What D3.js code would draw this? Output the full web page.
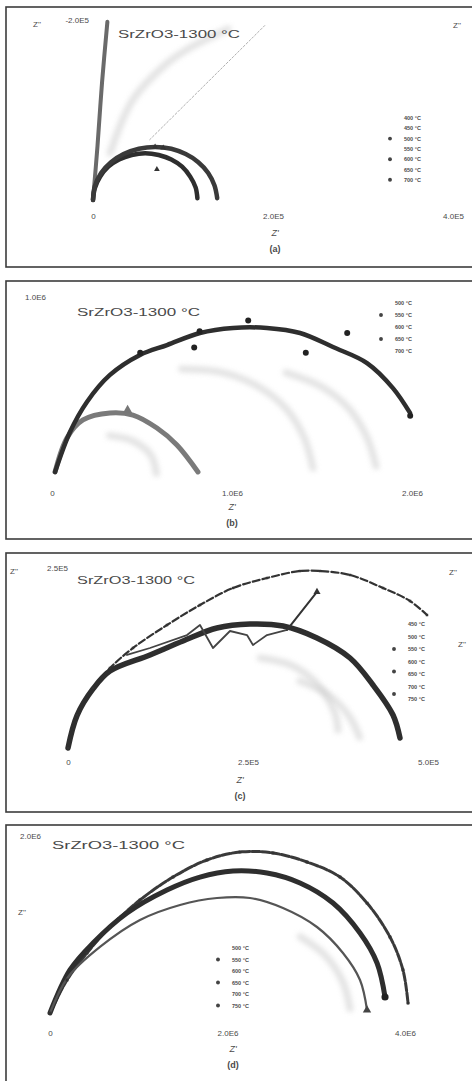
<!DOCTYPE html>
<html>
<head>
<meta charset="utf-8">
<script src="https://cdn.jsdelivr.net/npm/d3@7"></script>
<style>
  body { margin: 0; background: #fff; }
  svg { display: block; }
  text { font-family: "Liberation Sans", Arial, sans-serif; fill: #4a4a4a; }
</style>
</head>
<body>
<svg id="chart" width="472" height="1081"></svg>
<script>
// ---------- (a) Z' and -Z'' in units of 1e5 ohm ----------
const aOuter = [[0,0],[0.02,0.15],[0.09,0.30],[0.20,0.42],[0.34,0.51],[0.51,0.57],[0.69,0.59],[0.87,0.57],[1.03,0.51],[1.17,0.42],[1.28,0.30],[1.35,0.16],[1.38,0.02]];
const aInner = [[0,0],[0.02,0.13],[0.08,0.26],[0.17,0.37],[0.29,0.45],[0.43,0.50],[0.58,0.52],[0.73,0.50],[0.87,0.45],[0.99,0.37],[1.08,0.26],[1.14,0.14],[1.16,0.02]];
const aSpike = [[0,0],[0.05,0.60],[0.10,1.30],[0.16,1.98]];
const aHaze  = [[0.19,0.52],[0.44,1.11],[0.80,1.50],[1.04,1.67],[1.50,1.90]];
const aGuide = [[0.63,0.67],[1.91,1.94]];
const aMarks = [[0.69,0.59],[0.71,0.34],[0.78,0.58]];
const aXTicks = [0, 2, 4];
const aXLabels = ["0", "2.0E5", "4.0E5"];
const aYTicks = [2];
const aYLabels = ["-2.0E5"];
const aLegend = ["400 °C", "450 °C", "500 °C", "550 °C", "600 °C", "650 °C", "700 °C"];

// ---------- (b) units of 1e6 ohm ----------
const bOuter = [[0.017,0.028],[0.10,0.25],[0.194,0.417],[0.322,0.567],[0.489,0.678],[0.639,0.733],[0.822,0.80],[1.006,0.828],[1.194,0.828],[1.378,0.80],[1.561,0.722],[1.75,0.633],[1.894,0.494],[1.989,0.356]];
const bInner = [[0.017,0.028],[0.083,0.217],[0.172,0.317],[0.322,0.356],[0.45,0.344],[0.583,0.272],[0.694,0.178],[0.811,0.028]];
const bDots  = [[1.09,0.87],[0.79,0.72],[1.41,0.69],[1.64,0.80],[0.82,0.81],[0.49,0.69],[1.99,0.34]];
const bTri   = [[0.42,0.37]];
const bGhost1 = [[0.72,0.60],[0.95,0.58],[1.15,0.50],[1.30,0.38],[1.40,0.22],[1.45,0.05]];
const bGhost2 = [[1.30,0.58],[1.50,0.50],[1.65,0.38],[1.75,0.22],[1.80,0.06]];
const bGhost3 = [[0.32,0.23],[0.45,0.20],[0.55,0.12],[0.58,0.02]];
const bXTicks = [0, 1, 2];
const bXLabels = ["0", "1.0E6", "2.0E6"];
const bYTicks = [1];
const bYLabels = ["1.0E6"];
const bLegend = ["500 °C", "550 °C", "600 °C", "650 °C", "700 °C"];

// ---------- (c) units of 1e5 ohm ----------
const cOuter = [[0,0],[0.125,0.458],[0.347,0.833],[0.583,1.111],[0.903,1.389],[1.375,1.708],[1.833,1.986],[2.292,2.222],[2.764,2.361],[3.222,2.458],[3.5,2.458],[3.917,2.403],[4.375,2.222],[4.75,2.042],[4.986,1.847]];
const cInner = [[0,0],[0.125,0.45],[0.347,0.82],[0.583,1.069],[1.139,1.292],[1.597,1.486],[2.069,1.667],[2.528,1.722],[2.986,1.694],[3.458,1.528],[3.917,1.25],[4.236,0.875],[4.514,0.458],[4.611,0.139]];
const cZigzag = [[0.819,1.292],[1.139,1.389],[1.653,1.569],[1.833,1.708],[2.014,1.389],[2.25,1.625],[2.486,1.569],[2.569,1.431],[2.764,1.569],[3.042,1.639]];
const cArrow = [[3.042,1.639],[3.458,2.167]];
const cGhost1 = [[2.67,1.25],[3.10,1.15],[3.45,0.90],[3.70,0.50],[3.75,0.25]];
const cGhost2 = [[3.22,0.93],[3.60,0.75],[3.90,0.45],[4.05,0.15]];
const cXTicks = [0, 2.5, 5];
const cXLabels = ["0", "2.5E5", "5.0E5"];
const cYTicks = [2.5];
const cYLabels = ["2.5E5"];
const cLegend = ["450 °C", "500 °C", "550 °C", "600 °C", "650 °C", "700 °C", "750 °C"];

// ---------- (d) units of 1e6 ohm ----------
const dOuter = [[0,0],[0.192,0.372],[0.417,0.676],[0.676,0.969],[1.014,1.273],[1.386,1.532],[1.769,1.724],[2.141,1.814],[2.513,1.803],[2.896,1.701],[3.268,1.532],[3.572,1.239],[3.831,0.856],[3.977,0.485],[4.034,0.113]];
const dMiddle = [[0,0],[0.225,0.485],[0.485,0.789],[0.868,1.127],[1.318,1.386],[1.690,1.532],[2.062,1.600],[2.445,1.577],[2.817,1.465],[3.189,1.239],[3.493,0.901],[3.685,0.563],[3.775,0.180]];
const dInner = [[0,0],[0.20,0.40],[0.563,0.744],[1.014,1.048],[1.465,1.217],[1.882,1.296],[2.254,1.296],[2.625,1.183],[3.008,0.969],[3.301,0.676],[3.493,0.372],[3.572,0.034]];
const dGhost = [[2.82,0.86],[3.10,0.65],[3.30,0.35],[3.38,0.05]];
const dXTicks = [0, 2, 4];
const dXLabels = ["0", "2.0E6", "4.0E6"];
const dYTicks = [2];
const dYLabels = ["2.0E6"];
const dLegend = ["500 °C", "550 °C", "600 °C", "650 °C", "700 °C", "750 °C"];

const title = "SrZrO3-1300 °C";
const xName = "Z'";
const yName = "Z''";

// ---------- drawing ----------
const svg = d3.select("#chart");
const defs = svg.append("defs");
defs.append("filter").attr("id", "soft").attr("x", "-20%").attr("y", "-20%").attr("width", "140%").attr("height", "140%")
  .append("feGaussianBlur").attr("stdDeviation", 2.8);

const ink = "#2e2e2e";

function panel(cfg) {
  const g = svg.append("g");
  g.append("rect").attr("x", 6).attr("y", cfg.top).attr("width", 490).attr("height", cfg.bottom - cfg.top)
    .attr("fill", "none").attr("stroke", "#3c3c3c").attr("stroke-width", 1.6);

  const x = d3.scaleLinear().domain(cfg.xDomain).range(cfg.xRange);
  const y = d3.scaleLinear().domain(cfg.yDomain).range(cfg.yRange);
  const line = d3.line().x(d => x(d[0])).y(d => y(d[1])).curve(d3.curveCatmullRom.alpha(0.5));
  const straight = d3.line().x(d => x(d[0])).y(d => y(d[1]));

  // x axis: labels only
  const ax = g.append("g").attr("transform", `translate(0,${y(0) + cfg.xLabelGap})`)
    .call(d3.axisBottom(x).tickValues(cfg.xTicks).tickFormat((d, i) => cfg.xLabels[i]).tickSize(0).tickPadding(0));
  ax.select(".domain").remove();
  ax.selectAll("text").attr("font-size", 8).attr("fill", "#555").attr("font-family", "Liberation Sans, Arial");

  // y axis: top label only
  const ay = g.append("g").attr("transform", `translate(${cfg.yLabelRight},0)`)
    .call(d3.axisLeft(y).tickValues(cfg.yTicks).tickFormat((d, i) => cfg.yLabels[i]).tickSize(0).tickPadding(0));
  ay.select(".domain").remove();
  ay.selectAll("text").attr("font-size", 8).attr("fill", "#555").attr("font-family", "Liberation Sans, Arial");

  // faint ghost traces
  (cfg.ghosts || []).forEach(s => {
    g.append("path").attr("d", line(s)).attr("fill", "none").attr("stroke", "#cdcdcd")
      .attr("stroke-width", 7).attr("stroke-linecap", "round").attr("filter", "url(#soft)").attr("opacity", 0.55);
  });

  // series
  cfg.series.forEach(s => {
    g.append("path").attr("d", (s.straight ? straight : line)(s.data)).attr("fill", "none")
      .attr("stroke", s.color || ink).attr("stroke-width", s.width)
      .attr("stroke-dasharray", s.dash || null).attr("stroke-linecap", "round").attr("stroke-linejoin", "round")
      .attr("opacity", s.opacity || 1);
  });

  // markers
  (cfg.dots || []).forEach(m => {
    g.selectAll(null).data(m.data).enter().append("path")
      .attr("transform", d => `translate(${x(d[0])},${y(d[1])})`)
      .attr("d", d3.symbol().type(m.type).size(m.size))
      .attr("fill", m.fill).attr("stroke", m.stroke || "none").attr("stroke-width", 1.2);
  });

  // title and names
  g.append("text").attr("x", cfg.titleX).attr("y", cfg.titleY).attr("font-size", 10.5)
    .attr("textLength", cfg.titleLen).attr("lengthAdjust", "spacingAndGlyphs").attr("fill", "#3a3a3a").text(title);
  g.append("text").attr("x", cfg.nameX).attr("y", cfg.nameY).attr("text-anchor", "middle")
    .attr("font-size", 9).attr("font-style", "italic").attr("fill", "#555").text(xName);
  g.append("text").attr("x", cfg.nameX).attr("y", cfg.nameY + 16).attr("text-anchor", "middle")
    .attr("font-size", 9).attr("font-weight", "bold").attr("fill", "#444").text(cfg.tag);
  (cfg.yNames || []).forEach(p => {
    g.append("text").attr("x", p[0]).attr("y", p[1]).attr("font-size", 8).attr("fill", "#666").text(yName);
  });

  // legend
  const lg = g.append("g");
  cfg.legend.forEach((t, i) => {
    lg.append("text").attr("x", cfg.legX).attr("y", cfg.legY + i * cfg.legStep)
      .attr("font-size", 5.5).attr("font-weight", "bold").attr("fill", "#555").text(t);
  });
  cfg.legMarks.forEach(r => {
    lg.append("path").attr("transform", `translate(${cfg.legX - 14},${cfg.legY + r * cfg.legStep - 2})`)
      .attr("d", d3.symbol().type(d3.symbolCircle).size(12)).attr("fill", "#444");
  });
  return { g, x, y };
}

// (a)
panel({
  top: 7, bottom: 267, xDomain: [0, 4], xRange: [93, 453], yDomain: [0, 2.2], yRange: [200, 2],
  xTicks: aXTicks, xLabels: aXLabels, yTicks: aYTicks, yLabels: aYLabels, xLabelGap: 13, yLabelRight: 89,
  ghosts: [aHaze],
  series: [
    { data: aGuide, width: 1, color: "#b0b0b0", dash: "2,2", straight: true },
    { data: aSpike, width: 4, color: "#6a6a6a" },
    { data: aInner, width: 4.5, color: ink },
    { data: aOuter, width: 4.5, color: "#3a3a3a" }
  ],
  dots: [{ data: aMarks, type: d3.symbolTriangle, size: 14, fill: "#333" }],
  titleX: 118, titleY: 38, titleLen: 122, nameX: 275, nameY: 236, tag: "(a)",
  yNames: [[33, 27], [453, 28]],
  legend: aLegend, legX: 404, legY: 120, legStep: 10.3, legMarks: [2, 4, 6]
});

// (b)
panel({
  top: 281, bottom: 539, xDomain: [0, 2], xRange: [52, 412], yDomain: [0, 1], yRange: [477, 297],
  xTicks: bXTicks, xLabels: bXLabels, yTicks: bYTicks, yLabels: bYLabels, xLabelGap: 13, yLabelRight: 46,
  ghosts: [bGhost1, bGhost2, bGhost3],
  series: [
    { data: bInner, width: 5, color: "#7a7a7a" },
    { data: bOuter, width: 4.5, color: ink }
  ],
  dots: [
    { data: bDots, type: d3.symbolCircle, size: 28, fill: "#222" },
    { data: bTri, type: d3.symbolTriangle, size: 40, fill: "#777" }
  ],
  titleX: 77, titleY: 316, titleLen: 123, nameX: 232, nameY: 510, tag: "(b)",
  yNames: [],
  legend: bLegend, legX: 395, legY: 305, legStep: 12, legMarks: [1, 3]
});

// (c)
panel({
  top: 553, bottom: 812, xDomain: [0, 5], xRange: [68, 428], yDomain: [0, 2.5], yRange: [748, 568],
  xTicks: cXTicks, xLabels: cXLabels, yTicks: cYTicks, yLabels: cYLabels, xLabelGap: 11, yLabelRight: 68,
  ghosts: [cGhost1, cGhost2],
  series: [
    { data: cOuter, width: 2.2, color: "#333", dash: "7,3" },
    { data: cInner, width: 5.5, color: ink },
    { data: cZigzag, width: 1.8, color: "#444", straight: true },
    { data: cArrow, width: 2, color: "#333", straight: true }
  ],
  dots: [
    { data: cOuter, type: d3.symbolSquare, size: 6, fill: "#333" },
    { data: cArrow.slice(1), type: d3.symbolTriangle, size: 22, fill: "#333" }
  ],
  titleX: 77, titleY: 584, titleLen: 118, nameX: 240, nameY: 783, tag: "(c)",
  yNames: [[10, 574], [449, 575], [458, 647]],
  legend: cLegend, legX: 408, legY: 626, legStep: 12.5, legMarks: [2, 3.8, 5.6]
});

// (d)
panel({
  top: 825, bottom: 1100, xDomain: [0, 4], xRange: [50, 405], yDomain: [0, 2], yRange: [1013, 835.5],
  xTicks: dXTicks, xLabels: dXLabels, yTicks: dYTicks, yLabels: dYLabels, xLabelGap: 17, yLabelRight: 41,
  ghosts: [dGhost],
  series: [
    { data: dOuter, width: 3, color: "#3a3a3a", dash: "8,2" },
    { data: dMiddle, width: 5, color: ink },
    { data: dInner, width: 2.2, color: "#555" }
  ],
  dots: [
    { data: dOuter, type: d3.symbolSquare, size: 8, fill: "#333" },
    { data: dMiddle.slice(-1), type: d3.symbolCircle, size: 40, fill: "#222" },
    { data: dInner.slice(-1), type: d3.symbolTriangle, size: 30, fill: "#444" }
  ],
  titleX: 52, titleY: 849, titleLen: 133, nameX: 233, nameY: 1052, tag: "(d)",
  yNames: [[18, 915]],
  legend: dLegend, legX: 232, legY: 950, legStep: 11.5, legMarks: [1, 3, 5]
});
</script>
</body>
</html>
